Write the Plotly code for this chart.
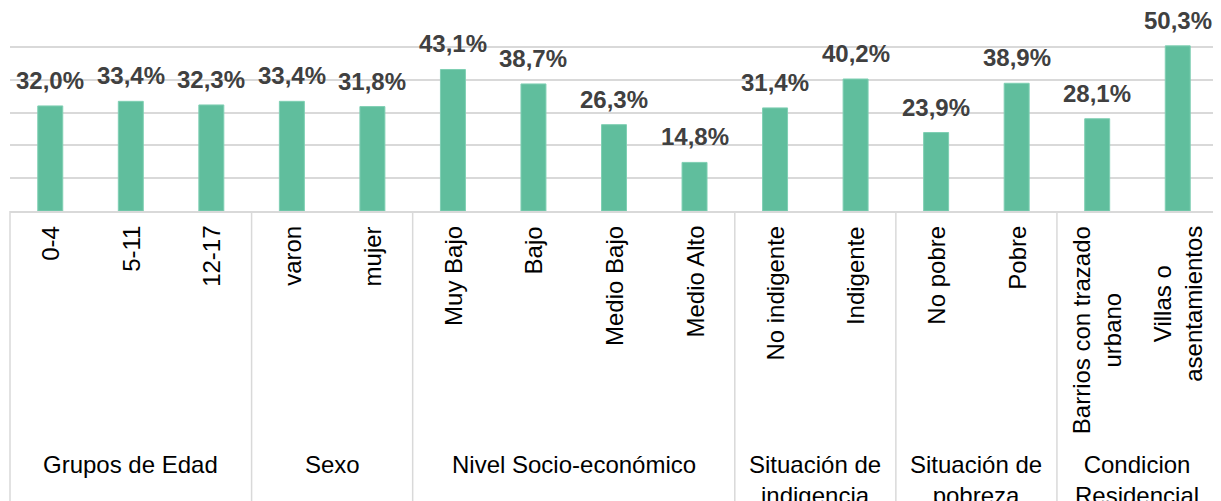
import plotly.graph_objects as go

categories = ["0-4", "5-11", "12-17", "varon", "mujer", "Muy Bajo", "Bajo",
              "Medio Bajo", "Medio Alto", "No indigente", "Indigente",
              "No pobre", "Pobre", "Barrios con trazado<br>urbano",
              "Villas o<br>asentamientos"]
values = [32.0, 33.4, 32.3, 33.4, 31.8, 43.1, 38.7, 26.3, 14.8, 31.4, 40.2,
          23.9, 38.9, 28.1, 50.3]
value_labels = ["32,0%", "33,4%", "32,3%", "33,4%", "31,8%", "43,1%", "38,7%",
                "26,3%", "14,8%", "31,4%", "40,2%", "23,9%", "38,9%", "28,1%",
                "50,3%"]
groups = ["Grupos de Edad", "Sexo", "Nivel Socio-económico",
          "Situación de<br>indigencia", "Situación de<br>pobreza",
          "Condicion<br>Residencial"]
group_sizes = [3, 2, 4, 2, 2, 2]

W, H = 1221, 501
# page body has an 8px default margin; compensate in the figure margins
ML, MR, MT, MB = 2, 11, 6, 298
plot_h = H - MT - MB

BAR = "#60BE9D"
GRID = "#D9D9D9"
FONT = "Liberation Sans, Arial, sans-serif"

fig = go.Figure()
fig.add_trace(go.Bar(
    x=categories, y=values,
    marker=dict(color=BAR, line=dict(color="#7FCFB3", width=1)),
    hoverinfo="skip",
))

ann = []
# value labels
for c, v, t in zip(categories, values, value_labels):
    ann.append(dict(x=c, y=v, xref="x", yref="y", text=t, showarrow=False,
                    yanchor="bottom", xanchor="center", yshift=10,
                    font=dict(family=FONT, size=24, color="#404040", weight="bold")))
# category tick labels (rotated)
for c in categories:
    ann.append(dict(x=c, y=0, xref="x", yref="paper", text=c, showarrow=False,
                    textangle=-90, yanchor="top", xanchor="center", yshift=-13,
                    align="center",
                    font=dict(family=FONT, size=24, color="#000000")))
# group labels & dividers
N = len(categories)
shapes = []
start = 0
bottom = -MB / plot_h
shapes.append(dict(type="line", xref="paper", yref="paper", x0=0, x1=0,
                   y0=0, y1=bottom, line=dict(color=GRID, width=1.5)))
for g, n in zip(groups, group_sizes):
    end = start + n
    mid = (start + end) / 2 / N
    ann.append(dict(x=mid, y=0, xref="paper", yref="paper", text=g,
                    showarrow=False, yanchor="top", xanchor="center",
                    yshift=-238, align="center",
                    font=dict(family=FONT, size=24, color="#000000")))
    shapes.append(dict(type="line", xref="paper", yref="paper",
                       x0=end / N, x1=end / N, y0=0, y1=bottom,
                       line=dict(color=GRID, width=1.5)))
    start = end

fig.update_layout(
    width=W, height=H,
    margin=dict(l=ML, r=MR, t=MT, b=MB, autoexpand=False),
    paper_bgcolor="white", plot_bgcolor="white",
    bargap=0.69, showlegend=False,
    annotations=ann, shapes=shapes,
    xaxis=dict(type="category", showticklabels=False, ticks="",
               showline=True, linecolor=GRID, linewidth=1.5,
               showgrid=False, fixedrange=True),
    yaxis=dict(range=[0, 60], dtick=10, showticklabels=False, ticks="",
               showgrid=True, gridcolor=GRID, gridwidth=1.5,
               zeroline=False, showline=False, fixedrange=True),
)

fig.write_html("out.html", config={"displayModeBar": False})
